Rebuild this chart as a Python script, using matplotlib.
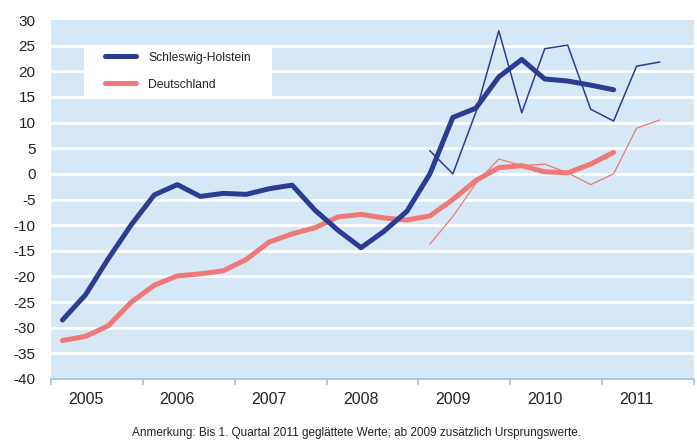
import matplotlib.pyplot as plt
from matplotlib.patches import Rectangle
import numpy as np

plt.rcParams['font.family'] = ['Liberation Sans', 'DejaVu Sans']
plt.rcParams['axes.unicode_minus'] = False

# Quartale 2005 Q1 bis 2011 Q3
years = [2005, 2006, 2007, 2008, 2009, 2010, 2011]
year_labels = ['2005', '2006', '2007', '2008', '2009', '2010', '2011']

# geglaettete Werte, 2005 Q1 - 2011 Q1
sh_smooth = [-28.5, -23.6, -16.5, -9.9,
             -4.1, -2.1, -4.4, -3.8,
             -4.0, -2.9, -2.2, -7.1,
             -11.0, -14.4, -11.2, -7.3,
             0.0, 11.0, 12.8, 18.9,
             22.3, 18.5, 18.1, 17.3,
             16.4]
de_smooth = [-32.5, -31.7, -29.6, -25.0,
             -21.7, -19.9, -19.5, -18.9,
             -16.7, -13.3, -11.7, -10.5,
             -8.4, -7.9, -8.6, -9.0,
             -8.2, -5.0, -1.3, 1.2,
             1.6, 0.4, 0.2, 1.9,
             4.2]

# Ursprungswerte, 2009 Q1 - 2011 Q3
sh_orig = [4.5, 0.0, 12.0, 27.9, 11.9, 24.4, 25.1, 12.6, 10.3, 21.0, 21.8]
de_orig = [-13.7, -8.3, -1.9, 2.9, 1.6, 1.9, 0.2, -2.1, 0.0, 8.9, 10.5]

quarters = [y + (q - 0.5) / 4 for y in years for q in range(1, 5)]
x_smooth = quarters[:len(sh_smooth)]
x_orig = quarters[16:16 + len(sh_orig)]

blue = '#2b3d93'
red = '#ef7878'
bg = '#d6e8f5'
axis_col = '#9cc2e5'
txt = '#222222'

W, H = 697, 441
fig = plt.figure(figsize=(W / 100, H / 100), dpi=100)
ax_l, ax_r, ax_t, ax_b = 51, 694, 20, 379
ax = fig.add_axes([ax_l / W, 1 - ax_b / H, (ax_r - ax_l) / W, (ax_b - ax_t) / H])
ax.set_facecolor(bg)

ax.plot(x_smooth, sh_smooth, color=blue, lw=3.6, solid_capstyle='round',
        solid_joinstyle='round', label='Schleswig-Holstein', zorder=4)
ax.plot(x_smooth, de_smooth, color=red, lw=3.6, solid_capstyle='round',
        solid_joinstyle='round', label='Deutschland', zorder=3)
ax.plot(x_orig, sh_orig, color=blue, lw=1.1, zorder=4)
ax.plot(x_orig, de_orig, color=red, lw=0.9, zorder=3)

ax.set_xlim(2005, 2012)
ax.set_ylim(-40, 30)
ax.set_yticks(np.arange(-40, 31, 5))
ax.yaxis.grid(True, color='white', lw=2)
gl = ax.yaxis.get_gridlines()
gl[0].set_visible(False)
gl[-1].set_visible(False)
ax.set_axisbelow(True)
ax.tick_params(axis='y', length=0, pad=11, labelsize=11, labelcolor=txt)

ax.set_xticks(np.arange(2005, 2013, 1))
ax.set_xticklabels([])
ax.set_xticks([y + 0.375 for y in years], minor=True)
ax.set_xticklabels(year_labels, minor=True)
ax.tick_params(axis='x', which='major', length=4, color=axis_col, width=1.2)
ax.tick_params(axis='x', which='minor', length=0, pad=9, labelsize=11.5,
               labelcolor=txt)

for s in ['top', 'right', 'left']:
    ax.spines[s].set_visible(False)
ax.spines['bottom'].set_color(axis_col)
ax.spines['bottom'].set_linewidth(1.2)


def to_ax(px, py):
    return (px - ax_l) / (ax_r - ax_l), (ax_b - py) / (ax_b - ax_t)


# weisser Legendenkasten
x0, y0 = to_ax(84, 97)
x1, y1 = to_ax(272, 47)
ax.add_patch(Rectangle((x0, y0), x1 - x0, y1 - y0, transform=ax.transAxes,
                       facecolor='white', edgecolor='none', zorder=2))

lx, ly = to_ax(105, 51.5)
leg = ax.legend(loc='upper left', bbox_to_anchor=(lx, ly), fontsize=8.7,
                frameon=False, handlelength=2.55, handletextpad=1.0,
                labelspacing=1.25, borderpad=0, borderaxespad=0)
for t in leg.get_texts():
    t.set_color(txt)

fig.text(356 / W, 1 - 433 / H,
         'Anmerkung: Bis 1. Quartal 2011 geglättete Werte; ab 2009 zusätzlich Ursprungswerte.',
         ha='center', va='center', fontsize=8.5, color=txt)

fig.savefig('out.png', dpi=100)
